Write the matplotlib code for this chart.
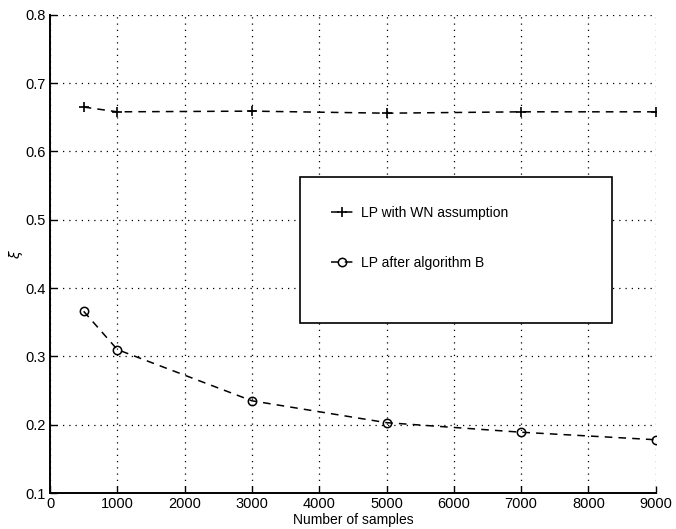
import matplotlib
matplotlib.use('Agg')
import matplotlib.pyplot as plt
from matplotlib.patches import Rectangle

# sample counts and normalised error for the two methods
samples = [500, 1000, 3000, 5000, 7000, 9000]
xi_wn = [0.665, 0.658, 0.659, 0.656, 0.658, 0.658]
xi_algb = [0.366, 0.310, 0.235, 0.203, 0.189, 0.178]

x_ticks = [0, 1000, 2000, 3000, 4000, 5000, 6000, 7000, 8000, 9000]
y_ticks = [0.1, 0.2, 0.3, 0.4, 0.5, 0.6, 0.7, 0.8]

plt.rcParams['font.family'] = ['Liberation Sans', 'DejaVu Sans']

fig = plt.figure(figsize=(6.76, 5.29), dpi=100, facecolor='white')
ax = fig.add_axes([0.074, 0.068, 0.896, 0.904])

ax.plot(samples, xi_wn, color='black', linestyle=(0, (5, 4)), linewidth=1.1,
        marker='+', markersize=7, markeredgewidth=1.2, label='LP with WN assumption')
ax.plot(samples, xi_algb, color='black', linestyle=(0, (5, 4)), linewidth=1.1,
        marker='o', markersize=6, markerfacecolor='none', markeredgewidth=1.1,
        label='LP after algorithm B')

ax.set_xlim(0, 9000)
ax.set_ylim(0.1, 0.8)
ax.set_xticks(x_ticks)
ax.set_yticks(y_ticks)
ax.set_xticklabels([str(v) for v in x_ticks], fontsize=10.5)
ax.set_yticklabels(['%.1f' % v for v in y_ticks], fontsize=10.5)
ax.tick_params(direction='in', length=5, width=1, pad=3)

ax.grid(True, color='black', linestyle=(0, (1, 4)), linewidth=0.9)
ax.set_axisbelow(True)
for s in ['top', 'right']:
    ax.spines[s].set_visible(False)
for s in ['left', 'bottom']:
    ax.spines[s].set_linewidth(1.4)

ax.set_xlabel('Number of samples', fontsize=10, labelpad=1)
ax.set_ylabel(r'$\xi$', fontsize=10)
ax.yaxis.set_label_coords(-0.042, 0.5)

# legend box
box = Rectangle((0.413, 0.355), 0.514, 0.305, transform=ax.transAxes,
                facecolor='white', edgecolor='black', linewidth=1.2, zorder=4)
ax.add_patch(box)
leg = ax.legend(loc='center left', bbox_to_anchor=(0.452, 0.533), frameon=False,
                borderpad=0, labelspacing=2.6, handlelength=1.6, handletextpad=0.6,
                fontsize=10)
leg.set_zorder(5)

plt.savefig('out.png', dpi=100)
